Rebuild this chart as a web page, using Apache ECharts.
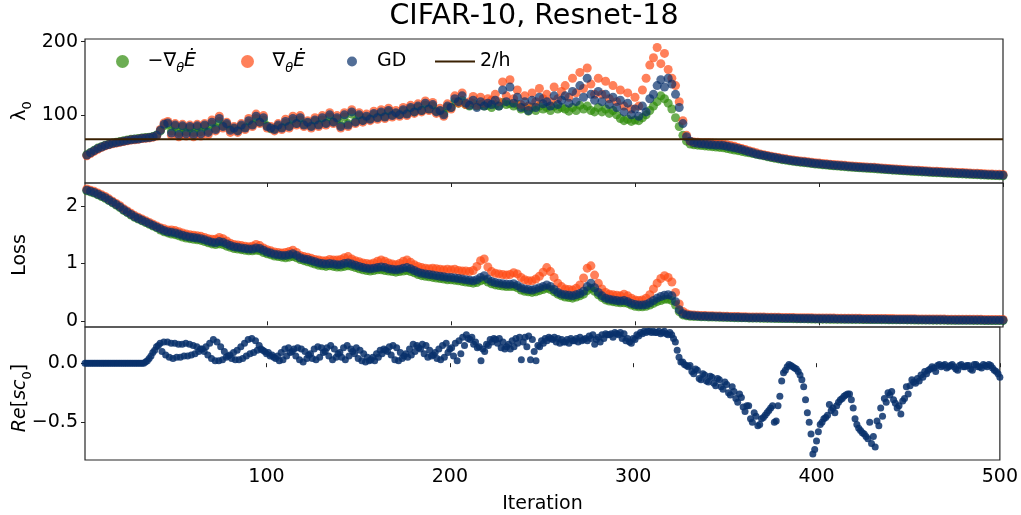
<!DOCTYPE html>
<html>
<head>
<meta charset="utf-8">
<script src="https://cdn.jsdelivr.net/npm/echarts@6/dist/echarts.min.js"></script>
<style>
  html, body { margin: 0; padding: 0; background: #ffffff; }
  #chart { width: 1021px; height: 515px; }
</style>
</head>
<body>
<div id="chart"></div>
<script>
// Iterations are sampled every 2 steps: even steps 2..500, odd steps 1..499
const SAMPLE_STEP = 2;
const SAMPLE_COUNT = 250;
const ITER_MIN = 1, ITER_MAX = 500;
const X_TICKS = [100, 200, 300, 400, 500];
const LAMBDA_TICKS = [100, 200];
const LOSS_TICKS = [0, 1, 2];
const RE_TICKS = [-0.5, 0];
const TWO_OVER_H = 66.67;

// Top sharpness lambda_0 for each update rule (even steps)
const lambdaGD = [
  45, 48, 51, 54, 56, 58, 59.5, 61, 62, 63,
  64, 65, 66, 66.5, 67, 68, 68.5, 69, 70, 72,
  79, 87, 89, 75, 86,   73, 85, 74, 84, 73,
  85, 74, 86, 76, 90,   80, 95, 84, 88, 79,
  82, 78, 86, 82, 92,   86, 98, 90, 96, 84,
  82, 80, 86, 82, 91,   84, 95, 88, 96, 86,
  90, 84, 93, 86, 96,   88, 100, 90, 96, 84,
  100, 86, 104, 90, 100,   92, 98, 94, 102, 96,
  104, 97, 106, 99, 103,   100, 107, 101, 110, 104,
  112, 106, 116, 108, 114,   104, 106, 100, 112, 110,
  122, 118, 126, 116, 113,   120, 110, 118, 112, 116,
  114, 120, 112, 134, 118,   138, 116, 124, 110, 118,
  106, 120, 110, 124, 115,   118, 112, 126, 114, 120,
  126, 116, 132, 118, 140,   124, 150, 128, 120, 132,
  118, 128, 114, 124, 110,   120, 104, 116, 100, 108,
  98, 112, 104, 122, 128,   140, 148, 138, 150, 142,
  128, 110, 88, 70, 64,   62, 61, 60.5, 60, 59.5,
  59, 58.5, 58.5, 58, 57,   56, 55, 54, 52.5, 51,
  49.5, 48, 46.5, 45.5, 44.5,   43.5, 42.5, 41.5, 40.5, 39.5,
  38.8, 38.0, 37.3, 36.6, 36.0,   35.4, 34.8, 34.2, 33.6, 33.1,
  32.6, 32.1, 31.6, 31.1, 30.7,   30.3, 29.9, 29.5, 29.1, 28.7,
  28.4, 28.1, 27.8, 27.5, 27.2,   26.8, 26.4, 26.0, 25.6, 25.2,
  24.9, 24.6, 24.3, 24.0, 23.7,   23.4, 23.1, 22.8, 22.5, 22.2,
  22.0, 21.7, 21.5, 21.2, 21.0,   20.7, 20.5, 20.2, 20.0, 19.7,
  19.5, 19.2, 19.0, 18.7, 18.5,   18.2, 18.0, 17.8, 17.6, 17.4
];
const lambdaPos = [
  44, 47, 50, 53, 55.5, 57.5, 59, 60.5, 61.5, 62.5,
  63.5, 64.5, 65.5, 66, 66.5, 67.5, 68, 68.5, 69.5, 71,
  80, 89, 91, 72, 88,   70, 87, 71, 86, 70,
  87, 71, 88, 73, 93,   78, 98, 82, 90, 76,
  84, 76, 88, 80, 95,   84, 101, 88, 99, 82,
  84, 78, 88, 80, 94,   82, 98, 86, 99, 84,
  92, 82, 96, 84, 99,   86, 103, 88, 99, 82,
  103, 84, 107, 88, 103,   90, 101, 92, 105, 94,
  107, 95, 109, 97, 106,   98, 110, 99, 113, 102,
  115, 104, 119, 106, 117,   102, 109, 98, 115, 108,
  126, 116, 130, 114, 118,   125, 113, 124, 116, 122,
  120, 128, 118, 145, 126,   148, 122, 134, 114, 126,
  112, 130, 118, 136, 122,   128, 118, 138, 122, 132,
  140, 124, 150, 130, 158,   136, 164, 142, 128, 150,
  128, 146, 122, 140, 118,   134, 112, 130, 108, 124,
  112, 134, 150, 168, 178,   192, 170, 184, 162, 150,
  140, 118, 92, 72, 64,   63, 62.5, 62, 62, 62,
  61.5, 61, 60.5, 60, 59,   58, 57, 55.5, 54, 52.5,
  51, 49.5, 48, 46.5, 45.5,   44.5, 43.5, 42.5, 41.5, 40.5,
  39.8, 39.0, 38.3, 37.6, 37.0,   36.4, 35.8, 35.2, 34.6, 34.1,
  33.6, 33.1, 32.6, 32.1, 31.7,   31.3, 30.9, 30.5, 30.1, 29.7,
  29.4, 29.1, 28.8, 28.5, 28.2,   27.8, 27.4, 27.0, 26.6, 26.2,
  25.9, 25.6, 25.3, 25.0, 24.7,   24.4, 24.1, 23.8, 23.5, 23.2,
  23.0, 22.7, 22.5, 22.2, 22.0,   21.7, 21.5, 21.2, 21.0, 20.7,
  20.5, 20.2, 20.0, 19.7, 19.5,   19.2, 19.0, 18.8, 18.6, 18.4
];
const lambdaNeg = [
  45.5, 48.5, 51.5, 54.5, 56.5, 58.5, 60, 61.5, 62.5, 63.5,
  64.5, 65.5, 66.5, 67, 67.5, 68.5, 69, 69.5, 70.5, 72.5,
  78, 85, 87, 78, 84,   76, 83, 77, 82, 76,
  83, 77, 84, 78, 87,   82, 91, 85, 86, 81,
  81, 79, 84, 83, 89,   87, 95, 90, 93, 85,
  81, 81, 84, 83, 88,   85, 92, 88, 93, 87,
  89, 85, 91, 87, 93,   89, 97, 91, 94, 86,
  97, 88, 101, 91, 98,   93, 96, 95, 100, 97,
  102, 98, 104, 100, 102,   101, 105, 102, 108, 104,
  110, 106, 113, 108, 112,   105, 105, 102, 110, 110,
  118, 116, 120, 114, 112,   116, 112, 114, 112, 113,
  110, 114, 112, 117, 114,   115, 112, 114, 108, 110,
  105, 110, 106, 112, 108,   110, 106, 112, 108, 110,
  108, 105, 110, 106, 113,   108, 112, 106, 104, 110,
  104, 108, 102, 106, 100,   95, 92, 94, 91, 93,
  92, 96, 100, 106, 112,   118, 126, 122, 116, 108,
  96, 84, 72, 64, 60,   59, 58.5, 58, 57.5, 57,
  56.5, 56, 55.5, 55, 54,   53, 52, 51, 50, 49,
  48, 47, 46, 45, 44,   42.7, 41.7, 40.7, 39.7, 38.7,
  38.0, 37.2, 36.5, 35.8, 35.2,   34.6, 34.0, 33.4, 32.8, 32.3,
  31.8, 31.3, 30.8, 30.3, 29.9,   29.5, 29.1, 28.7, 28.3, 27.9,
  27.6, 27.3, 27.0, 26.7, 26.4,   26.0, 25.6, 25.2, 24.8, 24.4,
  24.1, 23.8, 23.5, 23.2, 22.9,   22.6, 22.3, 22.0, 21.7, 21.4,
  21.2, 20.9, 20.7, 20.4, 20.2,   19.9, 19.7, 19.4, 19.2, 18.9,
  18.7, 18.4, 18.2, 17.9, 17.7,   17.4, 17.2, 17.0, 16.8, 16.6
];

// Training loss for each update rule (even steps)
const lossGD = [
  2.27, 2.25, 2.23, 2.20, 2.17, 2.14, 2.10, 2.06, 2.02, 1.98,
  1.93, 1.89, 1.85, 1.81, 1.78, 1.75, 1.72, 1.69, 1.66, 1.63,
  1.60, 1.57, 1.55, 1.54, 1.53, 1.51, 1.49, 1.47, 1.46, 1.45,
  1.44, 1.43, 1.41, 1.39, 1.37, 1.36, 1.38, 1.37, 1.34, 1.31,
  1.29, 1.28, 1.27, 1.26, 1.25, 1.25, 1.27, 1.26, 1.23, 1.20,
  1.18, 1.16, 1.15, 1.14, 1.14, 1.15, 1.17, 1.14, 1.10, 1.08,
  1.07, 1.05, 1.03, 1.01, 1.00, 0.99, 1.00, 0.99, 0.98, 0.98,
  1.00, 1.01, 0.99, 0.97, 0.95, 0.93, 0.92, 0.91, 0.92, 0.93,
  0.94, 0.93, 0.91, 0.90, 0.89, 0.90, 0.92, 0.93, 0.91, 0.88,
  0.85, 0.83, 0.82, 0.81, 0.80, 0.79, 0.78, 0.77, 0.76, 0.76,
  0.75, 0.74, 0.73, 0.72, 0.71, 0.70, 0.72, 0.76, 0.79, 0.73,
  0.69, 0.67, 0.66, 0.65, 0.64, 0.64, 0.65, 0.62, 0.58, 0.56,
  0.55, 0.54, 0.56, 0.58, 0.60, 0.63, 0.60, 0.55, 0.50, 0.47,
  0.46, 0.45, 0.44, 0.46, 0.48, 0.52, 0.60, 0.66, 0.58, 0.50,
  0.44, 0.40, 0.38, 0.37, 0.36, 0.35, 0.36, 0.34, 0.31, 0.29,
  0.28, 0.28, 0.29, 0.32, 0.36, 0.40, 0.43, 0.45, 0.46, 0.44,
  0.34, 0.20, 0.13, 0.11, 0.10, 0.095, 0.09, 0.088, 0.085, 0.083,
  0.081, 0.079, 0.077, 0.075, 0.073, 0.071, 0.069, 0.068, 0.066, 0.065,
  0.063, 0.062, 0.061, 0.060, 0.059, 0.058, 0.057, 0.056, 0.055, 0.054,
  0.053, 0.052, 0.051, 0.050, 0.049, 0.048, 0.047, 0.046, 0.045, 0.044,
  0.043, 0.043, 0.042, 0.042, 0.041, 0.041, 0.040, 0.040, 0.039, 0.039,
  0.038, 0.037, 0.037, 0.036, 0.036, 0.035, 0.034, 0.034, 0.033, 0.033,
  0.032, 0.031, 0.031, 0.030, 0.030, 0.029, 0.028, 0.028, 0.027, 0.027,
  0.026, 0.026, 0.025, 0.025, 0.024, 0.024, 0.023, 0.023, 0.022, 0.022,
  0.022, 0.021, 0.021, 0.021, 0.020, 0.020, 0.020, 0.019, 0.019, 0.019
];
const lossPos = [
  2.29, 2.27, 2.25, 2.22, 2.19, 2.16, 2.12, 2.08, 2.04, 2.00,
  1.95, 1.91, 1.87, 1.83, 1.80, 1.77, 1.74, 1.71, 1.68, 1.65,
  1.62, 1.60, 1.58, 1.58, 1.57, 1.55, 1.53, 1.51, 1.50, 1.49,
  1.48, 1.47, 1.45, 1.43, 1.42, 1.42, 1.45, 1.43, 1.39, 1.35,
  1.33, 1.32, 1.31, 1.30, 1.29, 1.30, 1.33, 1.31, 1.27, 1.24,
  1.22, 1.20, 1.19, 1.18, 1.19, 1.21, 1.23, 1.19, 1.14, 1.12,
  1.11, 1.09, 1.07, 1.06, 1.05, 1.05, 1.07, 1.06, 1.06, 1.07,
  1.10, 1.12, 1.08, 1.05, 1.03, 1.01, 1.00, 0.99, 1.01, 1.04,
  1.06, 1.04, 1.01, 0.99, 0.98, 1.00, 1.04, 1.06, 1.02, 0.98,
  0.95, 0.93, 0.92, 0.91, 0.92, 0.91, 0.90, 0.89, 0.90, 0.89,
  0.90, 0.88, 0.87, 0.87, 0.86, 0.88, 0.95, 1.05, 1.08, 0.94,
  0.86, 0.83, 0.82, 0.81, 0.80, 0.81, 0.84, 0.82, 0.76, 0.72,
  0.70, 0.70, 0.73, 0.78, 0.85, 0.93, 0.86, 0.76, 0.66, 0.60,
  0.56, 0.55, 0.54, 0.57, 0.63, 0.75, 0.92, 0.96, 0.80, 0.66,
  0.56, 0.50, 0.47, 0.46, 0.45, 0.44, 0.47, 0.44, 0.40, 0.37,
  0.36, 0.37, 0.40, 0.46, 0.56, 0.66, 0.74, 0.79, 0.76, 0.68,
  0.50, 0.30, 0.17, 0.13, 0.115, 0.11, 0.105, 0.10, 0.098, 0.096,
  0.094, 0.092, 0.090, 0.088, 0.086, 0.084, 0.082, 0.081, 0.079, 0.078,
  0.076, 0.075, 0.074, 0.073, 0.072, 0.071, 0.070, 0.069, 0.068, 0.067,
  0.066, 0.065, 0.064, 0.063, 0.062, 0.061, 0.060, 0.059, 0.058, 0.057,
  0.056, 0.056, 0.055, 0.055, 0.054, 0.054, 0.053, 0.053, 0.052, 0.052,
  0.051, 0.050, 0.050, 0.049, 0.049, 0.048, 0.047, 0.047, 0.046, 0.046,
  0.045, 0.044, 0.044, 0.043, 0.043, 0.042, 0.041, 0.041, 0.040, 0.040,
  0.039, 0.039, 0.038, 0.038, 0.037, 0.037, 0.036, 0.036, 0.035, 0.035,
  0.035, 0.034, 0.034, 0.034, 0.033, 0.033, 0.033, 0.032, 0.032, 0.032
];
const lossNeg = [
  2.26, 2.24, 2.22, 2.19, 2.16, 2.13, 2.09, 2.05, 2.01, 1.97,
  1.92, 1.88, 1.84, 1.80, 1.77, 1.74, 1.71, 1.68, 1.65, 1.62,
  1.58, 1.55, 1.53, 1.51, 1.50, 1.48, 1.46, 1.44, 1.43, 1.42,
  1.41, 1.40, 1.38, 1.36, 1.34, 1.33, 1.34, 1.33, 1.30, 1.28,
  1.26, 1.25, 1.24, 1.23, 1.22, 1.22, 1.23, 1.22, 1.19, 1.17,
  1.15, 1.13, 1.12, 1.11, 1.10, 1.11, 1.12, 1.10, 1.07, 1.05,
  1.03, 1.01, 0.99, 0.97, 0.96, 0.95, 0.96, 0.95, 0.94, 0.94,
  0.95, 0.96, 0.95, 0.93, 0.91, 0.89, 0.88, 0.87, 0.88, 0.89,
  0.89, 0.88, 0.87, 0.86, 0.85, 0.86, 0.87, 0.88, 0.86, 0.84,
  0.81, 0.79, 0.78, 0.77, 0.76, 0.75, 0.74, 0.73, 0.72, 0.72,
  0.71, 0.70, 0.69, 0.68, 0.67, 0.66, 0.67, 0.70, 0.72, 0.68,
  0.65, 0.63, 0.62, 0.61, 0.60, 0.60, 0.60, 0.58, 0.54, 0.52,
  0.51, 0.50, 0.51, 0.53, 0.55, 0.57, 0.55, 0.51, 0.47, 0.44,
  0.42, 0.41, 0.40, 0.42, 0.44, 0.47, 0.53, 0.57, 0.52, 0.46,
  0.41, 0.37, 0.35, 0.34, 0.33, 0.32, 0.32, 0.31, 0.28, 0.26,
  0.25, 0.25, 0.26, 0.28, 0.31, 0.34, 0.36, 0.38, 0.38, 0.36,
  0.28, 0.17, 0.11, 0.095, 0.088, 0.084, 0.081, 0.079, 0.077, 0.075,
  0.074, 0.072, 0.070, 0.069, 0.067, 0.065, 0.063, 0.062, 0.060, 0.059,
  0.057, 0.056, 0.055, 0.054, 0.053, 0.052, 0.051, 0.050, 0.049, 0.048,
  0.047, 0.046, 0.045, 0.044, 0.043, 0.042, 0.041, 0.040, 0.039, 0.038,
  0.037, 0.037, 0.036, 0.036, 0.035, 0.035, 0.034, 0.034, 0.033, 0.033,
  0.032, 0.031, 0.031, 0.030, 0.030, 0.029, 0.028, 0.028, 0.027, 0.027,
  0.026, 0.025, 0.025, 0.024, 0.024, 0.023, 0.022, 0.022, 0.021, 0.021,
  0.020, 0.020, 0.019, 0.019, 0.018, 0.018, 0.017, 0.017, 0.016, 0.016,
  0.016, 0.015, 0.015, 0.015, 0.014, 0.014, 0.014, 0.013, 0.013, 0.013
];

// Real part of the leading stability coefficient (GD), even steps
const reScEven = [
  0, 0, 0, 0, 0, 0, 0, 0, 0, 0, 0, 0, 0, 0, 0, 0,
  0.01, 0.04, 0.09, 0.14,
  0.17, 0.18, 0.18, 0.17, 0.17,   0.16, 0.16, 0.17, 0.16, 0.15,
  0.14, 0.12, 0.10, 0.07, 0.04,   0.02, 0.02, 0.03, 0.05, 0.07,
  0.09, 0.11, 0.14, 0.17, 0.20,   0.21, 0.19, 0.15, 0.11, 0.08,
  0.06, 0.05, 0.06, 0.09, 0.12,   0.13, 0.10, 0.06, 0.03, 0.01,
  0.04, 0.08, 0.12, 0.14, 0.13,   0.10, 0.06, 0.03, 0.05, 0.09,
  0.13, 0.15, 0.12, 0.08, 0.04,   0.02, 0.01, 0.02, 0.05, 0.08,
  0.11, 0.12, 0.10, 0.07, 0.03,   0.02, 0.04, 0.08, 0.12, 0.16,
  0.15, 0.12, 0.08, 0.05, 0.06,   0.09, 0.12, 0.15, 0.17, 0.12,
  0.06, 0.02, 0.08, 0.15, 0.21,   0.22, 0.18, 0.14, 0.12, 0.16,
  0.20, 0.21, 0.17, 0.13, 0.12,   0.16, 0.19, 0.21, 0.22, 0.18,
  0.14, 0.03, 0.10, 0.15, 0.19,   0.21, 0.22, 0.20, 0.18, 0.17,
  0.18, 0.20, 0.21, 0.19, 0.18,   0.19, 0.21, 0.23, 0.24, 0.20,
  0.18, 0.21, 0.24, 0.25, 0.26,   0.24, 0.21, 0.19, 0.18, 0.21,
  0.24, 0.26, 0.27, 0.27, 0.26,   0.26, 0.27, 0.26, 0.25, 0.26,
  0.21, 0.11, 0.01, -0.01, -0.03,   -0.07, -0.05, -0.13, -0.09, -0.15,
  -0.11, -0.17, -0.13, -0.20, -0.16,   -0.25, -0.20, -0.30, -0.26, -0.37,
  -0.36, -0.47, -0.42, -0.53, -0.47,   -0.44, -0.40, -0.36, -0.49, -0.28,
  -0.08, -0.03, -0.02, -0.04, -0.07,   -0.14, -0.31, -0.50, -0.77, -0.66,
  -0.52, -0.47, -0.44, -0.40, -0.42,   -0.33, -0.30, -0.27, -0.26, -0.38,
  -0.52, -0.57, -0.60, -0.64, -0.68,   -0.71, -0.53, -0.45, -0.33, -0.27,
  -0.31, -0.38, -0.43, -0.30, -0.26,   -0.14, -0.17, -0.15, -0.12, -0.09,
  -0.05, -0.04, -0.02, -0.03, -0.01,   -0.03, -0.01, -0.05, -0.02, -0.03,
  -0.02, -0.05, -0.01, -0.03, -0.04,   -0.02, -0.01, -0.04, -0.07, -0.12
];
// Same quantity at the odd steps
const reScOdd = [
  0, 0, 0, 0, 0, 0, 0, 0, 0, 0, 0, 0, 0, 0, 0, 0,
  0.00, 0.02, 0.06, 0.11,
  0.15, 0.10, 0.07, 0.05, 0.04,   0.05, 0.05, 0.06, 0.06, 0.07,
  0.08, 0.10, 0.12, 0.14, 0.17,   0.20, 0.18, 0.14, 0.10, 0.06,
  0.04, 0.03, 0.03, 0.04, 0.06,   0.08, 0.09, 0.11, 0.12, 0.10,
  0.09, 0.07, 0.04, 0.02, 0.03,   0.06, 0.09, 0.12, 0.13, 0.12,
  0.10, 0.07, 0.04, 0.03, 0.05,   0.09, 0.13, 0.15, 0.12, 0.08,
  0.05, 0.03, 0.06, 0.10, 0.13,   0.11, 0.08, 0.05, 0.03, 0.02,
  0.05, 0.08, 0.11, 0.14, 0.15,   0.13, 0.09, 0.06, 0.05, 0.07,
  0.10, 0.13, 0.16, 0.15, 0.11,   0.07, 0.04, 0.03, 0.05, 0.09,
  0.13, 0.17, 0.19, 0.22, 0.24,   0.20, 0.16, 0.13, 0.02, 0.10,
  0.15, 0.18, 0.20, 0.21, 0.18,   0.14, 0.12, 0.14, 0.17, 0.03,
  0.22, 0.23, 0.20, 0.02, 0.14,   0.17, 0.19, 0.21, 0.22, 0.21,
  0.20, 0.18, 0.17, 0.19, 0.21,   0.22, 0.20, 0.19, 0.21, 0.16,
  0.22, 0.24, 0.25, 0.24, 0.22,   0.25, 0.26, 0.25, 0.21, 0.17,
  0.20, 0.23, 0.25, 0.26, 0.27,   0.27, 0.26, 0.25, 0.27, 0.24,
  0.24, 0.18, 0.05, 0.01, -0.02,   -0.02, -0.09, -0.06, -0.14, -0.10,
  -0.16, -0.12, -0.19, -0.14, -0.22,   -0.18, -0.27, -0.24, -0.33, -0.29,
  -0.41, -0.36, -0.50, -0.45, -0.52,   -0.46, -0.42, -0.38, -0.50, -0.36,
  -0.15, -0.06, -0.01, -0.03, -0.05,   -0.10, -0.20, -0.42, -0.60, -0.73,
  -0.58, -0.50, -0.46, -0.35, -0.38,   -0.36, -0.31, -0.28, -0.26, -0.31,
  -0.47, -0.55, -0.59, -0.62, -0.50,   -0.62, -0.49, -0.38, -0.30, -0.25,
  -0.24, -0.34, -0.36, -0.32, -0.20,   -0.19, -0.16, -0.13, -0.10, -0.07,
  -0.06, -0.03, -0.07, -0.01, -0.02,   -0.04, -0.02, -0.03, -0.06, -0.01,
  -0.03, -0.02, -0.06, -0.01, -0.03,   -0.01, -0.03, -0.02, -0.06, -0.09
];

const NAME_NEG = '\u2212\u2207\u03B8\u0116';
const NAME_POS = '\u2207\u03B8\u0116';
const NAME_GD = 'GD';
const NAME_H = '2/h';

const FONT = 'DejaVu Sans';
const GREEN = '#2e8a0a';
const ORANGE = '#ff4a14';
const NAVY = '#08306b';
const BROWN = '#3a2103';

const evenIters = [], oddIters = [];
for (let i = 0; i < SAMPLE_COUNT; i++) {
  evenIters.push(SAMPLE_STEP * (i + 1));
  oddIters.push(SAMPLE_STEP * i + 1);
}
const pairs = (arr, its) => arr.map((v, i) => [(its || evenIters)[i], v]);

const grids = [
  { left: 85, right: 18, top: 39, height: 144 },
  { left: 85, right: 18, top: 183, height: 144 },
  { left: 85, right: 18, top: 327, height: 143 }
].map(g => Object.assign(g, { show: true, borderColor: '#262626', borderWidth: 1.2, backgroundColor: 'transparent' }));

const tickLabel = { fontFamily: FONT, fontSize: 19, color: '#000' };

function xAxisFor(idx, withLabels) {
  return {
    type: 'value', gridIndex: idx, min: ITER_MIN, max: ITER_MAX,
    axisLine: { show: false },
    splitLine: { show: false },
    axisTick: { show: true, customValues: X_TICKS, length: 4, lineStyle: { color: '#222', width: 1 } },
    axisLabel: Object.assign({ show: withLabels, customValues: X_TICKS, margin: 8 }, tickLabel),
    name: withLabels ? 'Iteration' : '',
    nameLocation: 'middle', nameGap: 35,
    nameTextStyle: { fontFamily: FONT, fontSize: 19, color: '#000' }
  };
}
function yAxisFor(idx, min, max, ticks, fmt) {
  return {
    type: 'value', gridIndex: idx, min: min, max: max,
    axisLine: { show: false },
    splitLine: { show: false },
    axisTick: { show: true, customValues: ticks, length: 4, lineStyle: { color: '#222', width: 1 } },
    axisLabel: Object.assign({ customValues: ticks, margin: 7, formatter: fmt }, tickLabel)
  };
}

function scatter(name, xi, data, color, opacity, size, z) {
  return {
    name: name, type: 'scatter', xAxisIndex: xi, yAxisIndex: xi,
    data: data, symbolSize: size, clip: true, z: z,
    itemStyle: { color: color, opacity: opacity, borderWidth: 0 },
    emphasis: { disabled: true }
  };
}

const subRich = {
  t: { fontFamily: FONT, fontSize: 19, color: '#000', verticalAlign: 'middle', lineHeight: 28 },
  i: { fontFamily: FONT, fontSize: 19, color: '#000', fontStyle: 'italic', verticalAlign: 'middle', lineHeight: 28 },
  s: { fontFamily: FONT, fontSize: 13, color: '#000', fontStyle: 'italic', verticalAlign: 'bottom' },
  n: { fontFamily: FONT, fontSize: 13, color: '#000', verticalAlign: 'bottom' }
};
const legendText = {};
legendText[NAME_NEG] = '{t|\u2212\u2207}{s|\u03B8}{i|\u0116}';
legendText[NAME_POS] = '{t|\u2207}{s|\u03B8}{i|\u0116}';
legendText[NAME_GD] = '{t|GD}';
legendText[NAME_H] = '{t|2/h}';

function legendEntry(item, left, markerSize) {
  return {
    left: left, top: 52, padding: 0, orient: 'horizontal',
    itemWidth: 40, itemHeight: markerSize,
    data: [item],
    formatter: name => legendText[name],
    textStyle: { fontFamily: FONT, fontSize: 19, color: '#000', rich: subRich },
    selectedMode: false
  };
}

const chart = echarts.init(document.getElementById('chart'), null, { renderer: 'canvas' });
chart.setOption({
  animation: false,
  backgroundColor: '#ffffff',
  grid: grids,
  xAxis: [xAxisFor(0, false), xAxisFor(1, false), xAxisFor(2, true)],
  yAxis: [
    yAxisFor(0, 6.8, 203.7, LAMBDA_TICKS, v => String(v)),
    yAxisFor(1, -0.099, 2.394, LOSS_TICKS, v => String(v)),
    yAxisFor(2, -0.82, 0.3066, RE_TICKS, v => (v < 0 ? '\u2212' : '') + Math.abs(v).toFixed(1))
  ],
  legend: [
    legendEntry(NAME_NEG, 116, 13),
    legendEntry(NAME_POS, 241, 13),
    legendEntry(NAME_GD, 347, 10),
    legendEntry({ name: NAME_H, icon: 'path://M0,0L40,0L40,2L0,2Z' }, 435, 12)
  ],
  graphic: [
    { type: 'text', x: 534, y: 17, silent: true,
      style: { text: 'CIFAR-10, Resnet-18', fontFamily: FONT, fontSize: 28.5, fill: '#000', align: 'center', verticalAlign: 'middle' } },
    { type: 'text', x: 20, y: 111, rotation: Math.PI / 2, silent: true,
      style: { text: '{t|\u03BB}{n|0}', rich: subRich, align: 'center', verticalAlign: 'middle' } },
    { type: 'text', x: 20, y: 255, rotation: Math.PI / 2, silent: true,
      style: { text: 'Loss', fontFamily: FONT, fontSize: 19, fill: '#000', align: 'center', verticalAlign: 'middle' } },
    { type: 'text', x: 20, y: 398, rotation: Math.PI / 2, silent: true,
      style: { text: '{i|Re}{t|[}{i|sc}{n|0}{t|]}', rich: subRich, align: 'center', verticalAlign: 'middle' } }
  ],
  series: [
    scatter(NAME_NEG, 0, pairs(lambdaNeg), GREEN, 0.7, 9, 2),
    scatter(NAME_POS, 0, pairs(lambdaPos), ORANGE, 0.7, 9, 3),
    scatter(NAME_GD, 0, pairs(lambdaGD), NAVY, 0.7, 9, 4),
    {
      name: NAME_H, type: 'line', xAxisIndex: 0, yAxisIndex: 0, z: 5,
      data: [[ITER_MIN, TWO_OVER_H], [ITER_MAX, TWO_OVER_H]],
      symbol: 'none', lineStyle: { color: BROWN, width: 2 }, itemStyle: { color: BROWN },
      emphasis: { disabled: true }
    },
    scatter(NAME_NEG, 1, pairs(lossNeg), GREEN, 0.7, 9, 2),
    scatter(NAME_POS, 1, pairs(lossPos), ORANGE, 0.7, 9, 3),
    scatter(NAME_GD, 1, pairs(lossGD), NAVY, 0.7, 9, 4),
    scatter('Re', 2, pairs(reScEven).concat(pairs(reScOdd, oddIters)), NAVY, 0.85, 7, 4)
  ]
});
</script>
</body>
</html>
